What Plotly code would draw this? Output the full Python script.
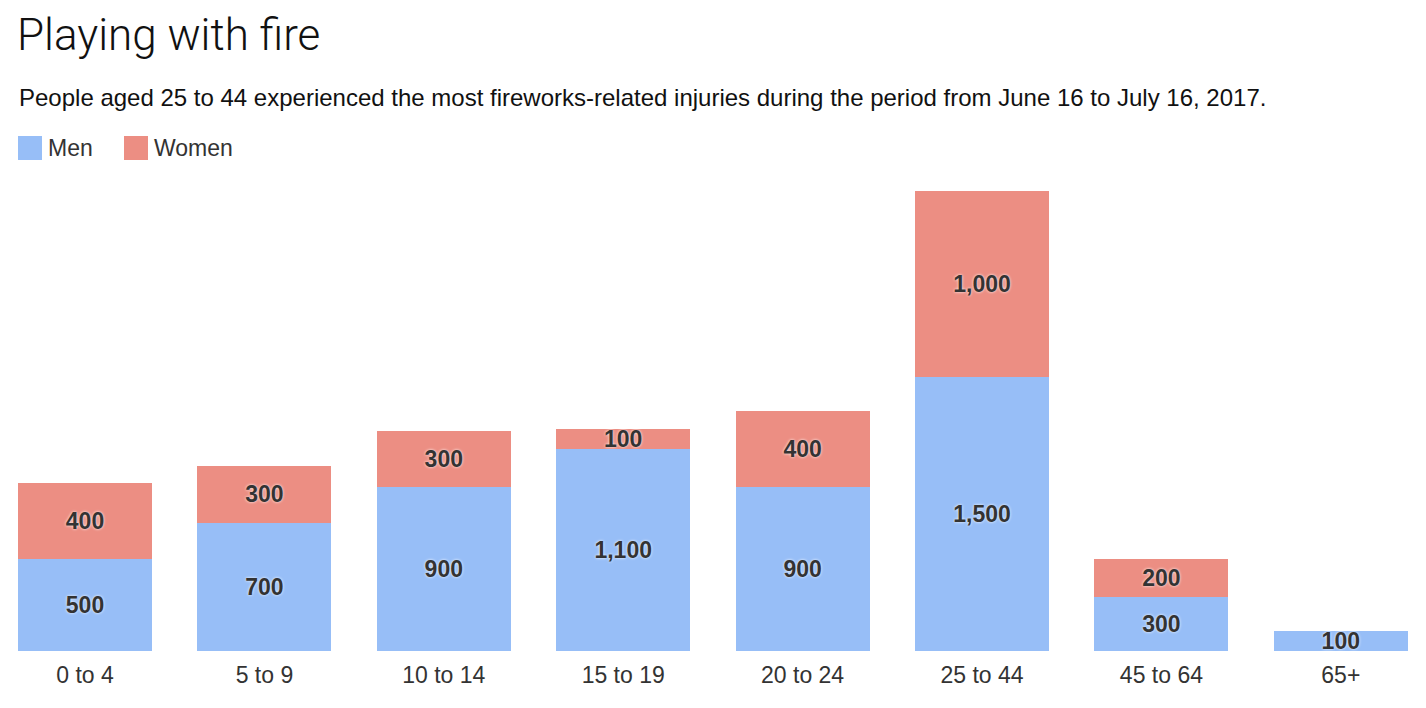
import plotly.graph_objects as go

categories = ["0 to 4", "5 to 9", "10 to 14", "15 to 19", "20 to 24", "25 to 44", "45 to 64", "65+"]
men = [503, 700, 896, 1104, 896, 1497, 295, 109]
women = [415, 311, 306, 109, 415, 1016, 208, 0]

MEN_COLOR = "#97BEF7"
WOMEN_COLOR = "#EC8E83"
OFF = 8  # page body margin
W, H = 1426 - 2 * OFF, 708 - 2 * OFF
PLOT_TOP, PLOT_BOTTOM = 180 - OFF, 651 - OFF
Y_SCALE = 0.183  # px per unit


def labels(vals):
    return ["" if v == 0 else f"{int(round(v, -2)):,}" for v in vals]


fig = go.Figure()
for name, vals, color in [("Men", men, MEN_COLOR), ("Women", women, WOMEN_COLOR)]:
    fig.add_trace(go.Bar(
        x=categories, y=vals, name=name, marker=dict(color=color, line=dict(width=0)),
        text=labels(vals), textposition="inside", insidetextanchor="middle",
        textangle=0,
        textfont=dict(family="Liberation Sans", size=23, color="#333333", weight="bold",
                      shadow="0px 0px 3px white"),
        cliponaxis=False,
    ))

px_per_cat = 179.4
r0 = -(85 - OFF) / px_per_cat
r1 = r0 + W / px_per_cat

fig.update_layout(
    width=W, height=H,
    barmode="stack", bargap=0.253,
    plot_bgcolor="white", paper_bgcolor="white",
    margin=dict(l=0, r=0, t=PLOT_TOP, b=H - PLOT_BOTTOM),
    showlegend=False,
    uniformtext=dict(minsize=23, mode="show"),
    title=dict(text="Playing with fire", xref="container", x=(17 - OFF) / W, xanchor="left",
               yref="container", y=1 - (35 - OFF) / H, yanchor="middle",
               font=dict(family="Roboto", size=44, color="#111111", weight=300)),
    xaxis=dict(range=[r0, r1], showgrid=False, zeroline=False, showline=False,
               ticks="", ticklabelstandoff=8,
               tickfont=dict(family="Liberation Sans", size=23, color="#333333")),
    yaxis=dict(range=[0, (PLOT_BOTTOM - PLOT_TOP) / Y_SCALE], visible=False),
)


def ypaper(ypx):
    return (PLOT_BOTTOM - (ypx - OFF)) / (PLOT_BOTTOM - PLOT_TOP)


def xpaper(xpx):
    return (xpx - OFF) / W


fig.add_annotation(
    text="People aged 25 to 44 experienced the most fireworks-related injuries during the period from June 16 to July 16, 2017.",
    xref="paper", yref="paper", x=xpaper(17), y=ypaper(97), xanchor="left", yanchor="middle",
    showarrow=False, font=dict(family="Liberation Sans", size=24, color="#111111"))

# legend swatches
for sx, name, color in [(18, "Men", MEN_COLOR), (124, "Women", WOMEN_COLOR)]:
    fig.add_shape(type="rect", xref="paper", yref="paper",
                  x0=xpaper(sx), x1=xpaper(sx + 24), y0=ypaper(160), y1=ypaper(136),
                  fillcolor=color, line=dict(width=0))
    fig.add_annotation(text=name, xref="paper", yref="paper", x=xpaper(sx + 28), y=ypaper(148),
                       xanchor="left", yanchor="middle", showarrow=False,
                       font=dict(family="Liberation Sans", size=23, color="#333333"))

fig.write_html("out.html")
